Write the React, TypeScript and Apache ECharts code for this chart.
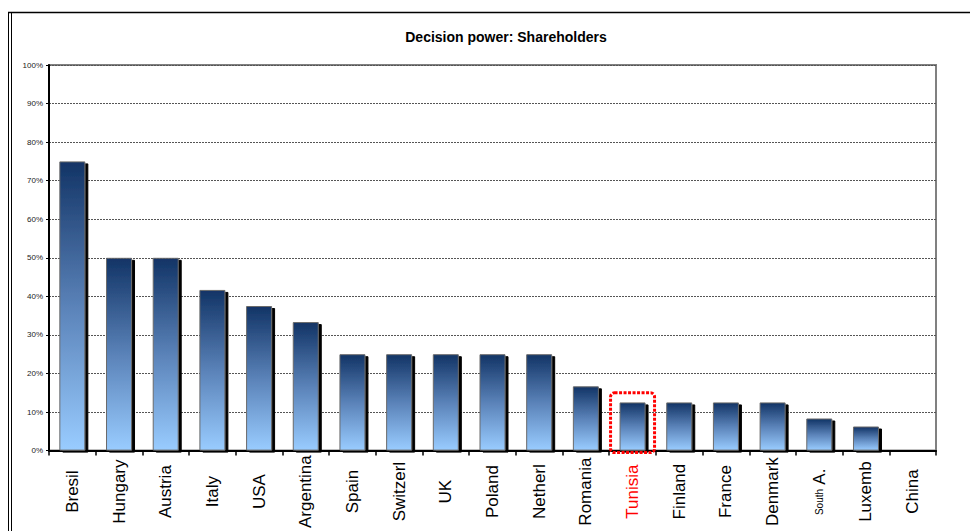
import React, { useEffect, useRef } from "react";
import * as echarts from "echarts";

const categories = [
  "Bresil", "Hungary", "Austria", "Italy", "USA", "Argentina", "Spain", "Switzerl", "UK",
  "Poland", "Netherl", "Romania", "Tunisia", "Finland", "France", "Denmark", "South A.", "Luxemb", "China",
];
const values = [75, 50, 50, 41.67, 37.5, 33.33, 25, 25, 25, 25, 25, 16.67, 12.5, 12.5, 12.5, 12.5, 8.33, 6.25, 0];
const yTicks = [0, 10, 20, 30, 40, 50, 60, 70, 80, 90, 100];
const highlight = "Tunisia";
const titleText = "Decision power: Shareholders";

export default function App() {
  const ref = useRef<HTMLDivElement>(null);
  useEffect(() => {
    if (!ref.current) return;
    const chart = echarts.init(ref.current, null, { renderer: "svg" });
    const option: any = {
      animation: false,
      backgroundColor: "#ffffff",
      title: {
        text: titleText,
        left: 501,
        top: 25,
        textAlign: "center",
        textStyle: { fontFamily: "Liberation Sans, Arial, sans-serif", fontWeight: "bold", fontSize: 14, color: "#000" },
      },
      grid: {
        left: 49, top: 65, width: 887, height: 394,
        show: true, borderColor: "#808080", borderWidth: 2, backgroundColor: "transparent",
      },
      xAxis: {
        type: "category",
        data: categories,
        axisLine: { lineStyle: { color: "#000", width: 2 } },
        axisTick: { show: true, length: 5, lineStyle: { color: "#000", width: 1.5 } },
        axisLabel: {
          rotate: 90,
          align: "center",
          margin: 41,
          interval: 0,
          fontFamily: "Liberation Sans, Arial, sans-serif",
          fontSize: 17,
          color: "#000",
          formatter: (v: string) => {
            if (v === highlight) return "{red|" + v + "}";
            if (v === "South A.") return "{s|South} A.";
            return v;
          },
          rich: {
            red: { color: "#ff0000", fontSize: 17, fontFamily: "Liberation Sans, Arial, sans-serif" },
            s: { fontSize: 10, fontFamily: "Liberation Sans, Arial, sans-serif", color: "#000" },
          },
        },
      },
      yAxis: {
        type: "value",
        min: yTicks[0],
        max: yTicks[yTicks.length - 1],
        interval: 10,
        axisLine: { show: true, lineStyle: { color: "#000", width: 2 } },
        axisTick: { show: true, length: 3, lineStyle: { color: "#000" } },
        axisLabel: {
          formatter: "{value}%",
          fontFamily: "Liberation Sans, Arial, sans-serif",
          fontSize: 8,
          color: "#222",
          margin: 6,
        },
        splitLine: { show: true, lineStyle: { color: "#555", type: [2, 1], width: 1 } },
      },
      series: [
        {
          type: "bar",
          data: values,
          barWidth: 26,
          itemStyle: {
            color: new echarts.graphic.LinearGradient(0, 0, 0, 1, [
              { offset: 0, color: "#123466" },
              { offset: 0.5, color: "#5a82b8" },
              { offset: 1, color: "#99ccff" },
            ]),
            borderColor: "#6a6a6a",
            borderWidth: 1,
            shadowColor: "#000",
            shadowBlur: 0,
            shadowOffsetX: 3,
            shadowOffsetY: 2,
          },
        },
      ],
    };
    chart.setOption(option);

    const idx = categories.indexOf(highlight);
    const c = chart.convertToPixel({ gridIndex: 0 }, [idx, 15]) as number[];
    const b = chart.convertToPixel({ gridIndex: 0 }, [idx, -0.5]) as number[];
    chart.setOption({
      graphic: [
        {
          type: "rect",
          shape: { x: c[0] - 22, y: c[1], width: 44, height: b[1] - c[1], r: 4 },
          style: { fill: "none", stroke: "#ff0000", lineWidth: 3, lineDash: [3, 1.5] },
          z: 100,
        },
        { type: "line", shape: { x1: 8.5, y1: 12, x2: 8.5, y2: 531 }, style: { stroke: "#000", lineWidth: 1 } },
        { type: "line", shape: { x1: 11.5, y1: 12, x2: 11.5, y2: 531 }, style: { stroke: "#000", lineWidth: 1 } },
        { type: "line", shape: { x1: 8, y1: 12.5, x2: 970, y2: 12.5 }, style: { stroke: "#000", lineWidth: 1.5 } },
      ],
    });
    return () => chart.dispose();
  }, []);
  return <div ref={ref} style={{ position: "fixed", left: 0, top: 0, width: 970, height: 531 }} />;
}
